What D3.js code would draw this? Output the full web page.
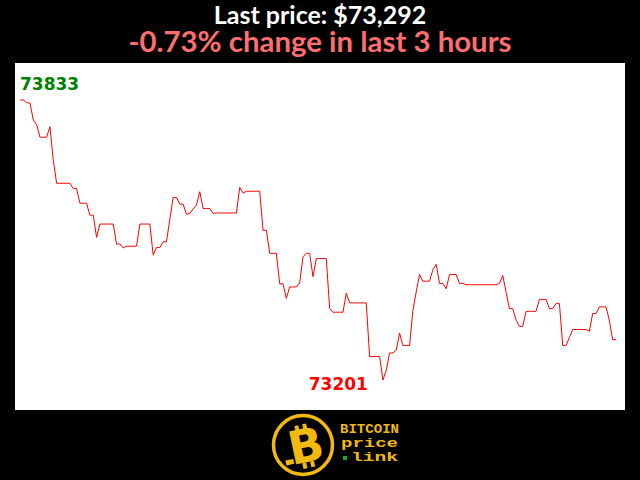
<!DOCTYPE html>
<html>
<head>
<meta charset="utf-8">
<script src="https://cdn.jsdelivr.net/npm/d3@7"></script>
<style>
  html, body { margin: 0; padding: 0; background: #000; }
  svg { display: block; }
</style>
</head>
<body>
<svg id="chart" width="640" height="480"></svg>
<script>
// ---- data (one value per minute, last 3 hours) ----
const prices = [
  73833,73833,73827,73826,73788,73777,73749,73749,73749,73773,
  73697,73645,73645,73645,73645,73645,73633,73633,73600,73600,
  73600,73573,73573,73523,73553,73553,73553,73553,73553,73508,
  73508,73499,73503,73503,73503,73503,73553,73553,73553,73553,
  73483,73500,73500,73513,73513,73564,73613,73613,73598,73598,
  73575,73577,73587,73596,73626,73588,73588,73588,73577,73578,
  73578,73578,73578,73578,73578,73578,73636,73623,73627,73627,
  73627,73627,73627,73539,73539,73487,73487,73487,73418,73418,
  73385,73411,73411,73411,73420,73479,73487,73487,73434,73475,
  73475,73475,73475,73362,73354,73354,73354,73354,73397,73375,
  73375,73375,73375,73375,73375,73254,73254,73254,73254,73201,
  73223,73262,73262,73268,73307,73279,73279,73279,73358,73400,
  73439,73424,73424,73424,73450,73462,73419,73419,73407,73439,
  73439,73439,73419,73419,73416,73416,73416,73416,73416,73416,
  73416,73416,73416,73416,73419,73437,73399,73362,73362,73336,
  73322,73322,73356,73356,73356,73356,73383,73383,73383,73362,
  73362,73374,73374,73279,73279,73297,73315,73315,73315,73315,
  73315,73311,73351,73351,73366,73366,73366,73336,73292,73292
];
const titleText = "Last price: $73,292";
const subtitleText = "-0.73% change in last 3 hours";
const logoLines = ["BITCOIN", "price", "link"];

// ---- layout ----
const svg = d3.select("#chart");
const W = 640, H = 480;
const plot = { x: 15, y: 63, w: 610, h: 347 };
const pad = { left: 5, right: 9, top: 37, bottom: 30 };

svg.append("rect").attr("width", W).attr("height", H).attr("fill", "#000");
svg.append("rect")
  .attr("x", plot.x).attr("y", plot.y)
  .attr("width", plot.w).attr("height", plot.h)
  .attr("fill", "#fff");

const x = d3.scaleLinear()
  .domain([0, prices.length - 1])
  .range([plot.x + pad.left, plot.x + plot.w - pad.right]);
const y = d3.scaleLinear()
  .domain(d3.extent(prices))
  .range([plot.y + plot.h - pad.bottom, plot.y + pad.top]);

svg.append("path")
  .datum(prices)
  .attr("fill", "none")
  .attr("stroke", "#ff0000")
  .attr("stroke-width", 1)
  .attr("d", d3.line().x((d, i) => x(i)).y(d => y(d)));

// max / min labels
const maxV = d3.max(prices), minV = d3.min(prices);
const maxI = prices.indexOf(maxV), minI = prices.indexOf(minV);
svg.append("text")
  .attr("x", x(maxI)).attr("y", y(maxV) - 10)
  .attr("font-family", "DejaVu Sans, Verdana, sans-serif")
  .attr("font-weight", "bold").attr("font-size", 17)
  .attr("fill", "#008000")
  .text(maxV);
svg.append("text")
  .attr("x", x(minI) - 15).attr("y", y(minV) + 10)
  .attr("text-anchor", "end")
  .attr("font-family", "DejaVu Sans, Verdana, sans-serif")
  .attr("font-weight", "bold").attr("font-size", 17)
  .attr("fill", "#ff0000")
  .text(minV);

// titles
svg.append("text")
  .attr("x", 320).attr("y", 24)
  .attr("text-anchor", "middle")
  .attr("font-family", "Lato, sans-serif")
  .attr("font-weight", "bold").attr("font-size", 25)
  .attr("fill", "#ffffff")
  .text(titleText);
svg.append("text")
  .attr("x", 320).attr("y", 52)
  .attr("text-anchor", "middle")
  .attr("font-family", "Lato, sans-serif")
  .attr("font-weight", "bold").attr("font-size", 29.4)
  .attr("fill", "#ff6e6e")
  .text(subtitleText);

// logo
const gold = "#f2b90f";
const logo = svg.append("g");
logo.append("circle").attr("cx", 303).attr("cy", 445).attr("r", 29.5)
  .attr("fill", "#000").attr("stroke", gold).attr("stroke-width", 3.5);
const bg = logo.append("g").attr("transform", "translate(306,447) rotate(-12)");
bg.append("text")
  .attr("x", 0).attr("y", 15)
  .attr("text-anchor", "middle")
  .attr("font-family", "DejaVu Sans, sans-serif")
  .attr("font-weight", "bold").attr("font-size", 46)
  .attr("fill", gold)
  .text("B");
[-7, 1].forEach(dx => {
  bg.append("rect").attr("x", dx).attr("y", -23).attr("width", 4).attr("height", 6).attr("fill", gold);
  bg.append("rect").attr("x", dx).attr("y", 15).attr("width", 4).attr("height", 6).attr("fill", gold);
});
bg.append("rect").attr("x", -23).attr("y", 9).attr("width", 8).attr("height", 5).attr("fill", gold);

const tfont = "Liberation Mono, Courier New, monospace";
logo.append("text").attr("x", 340).attr("y", 433)
  .attr("font-family", tfont).attr("font-weight", "bold").attr("font-size", 12)
  .attr("textLength", 59).attr("lengthAdjust", "spacingAndGlyphs")
  .attr("fill", gold).text(logoLines[0]);
logo.append("text").attr("x", 341).attr("y", 447)
  .attr("font-family", tfont).attr("font-weight", "bold").attr("font-size", 12)
  .attr("textLength", 57).attr("lengthAdjust", "spacingAndGlyphs")
  .attr("fill", gold).text(logoLines[1]);
logo.append("rect").attr("x", 343).attr("y", 456).attr("width", 4).attr("height", 4).attr("fill", "#1fa51f");
logo.append("text").attr("x", 351).attr("y", 461)
  .attr("font-family", tfont).attr("font-weight", "bold").attr("font-size", 12)
  .attr("textLength", 47).attr("lengthAdjust", "spacingAndGlyphs")
  .attr("fill", gold).text(logoLines[2]);
</script>
</body>
</html>
